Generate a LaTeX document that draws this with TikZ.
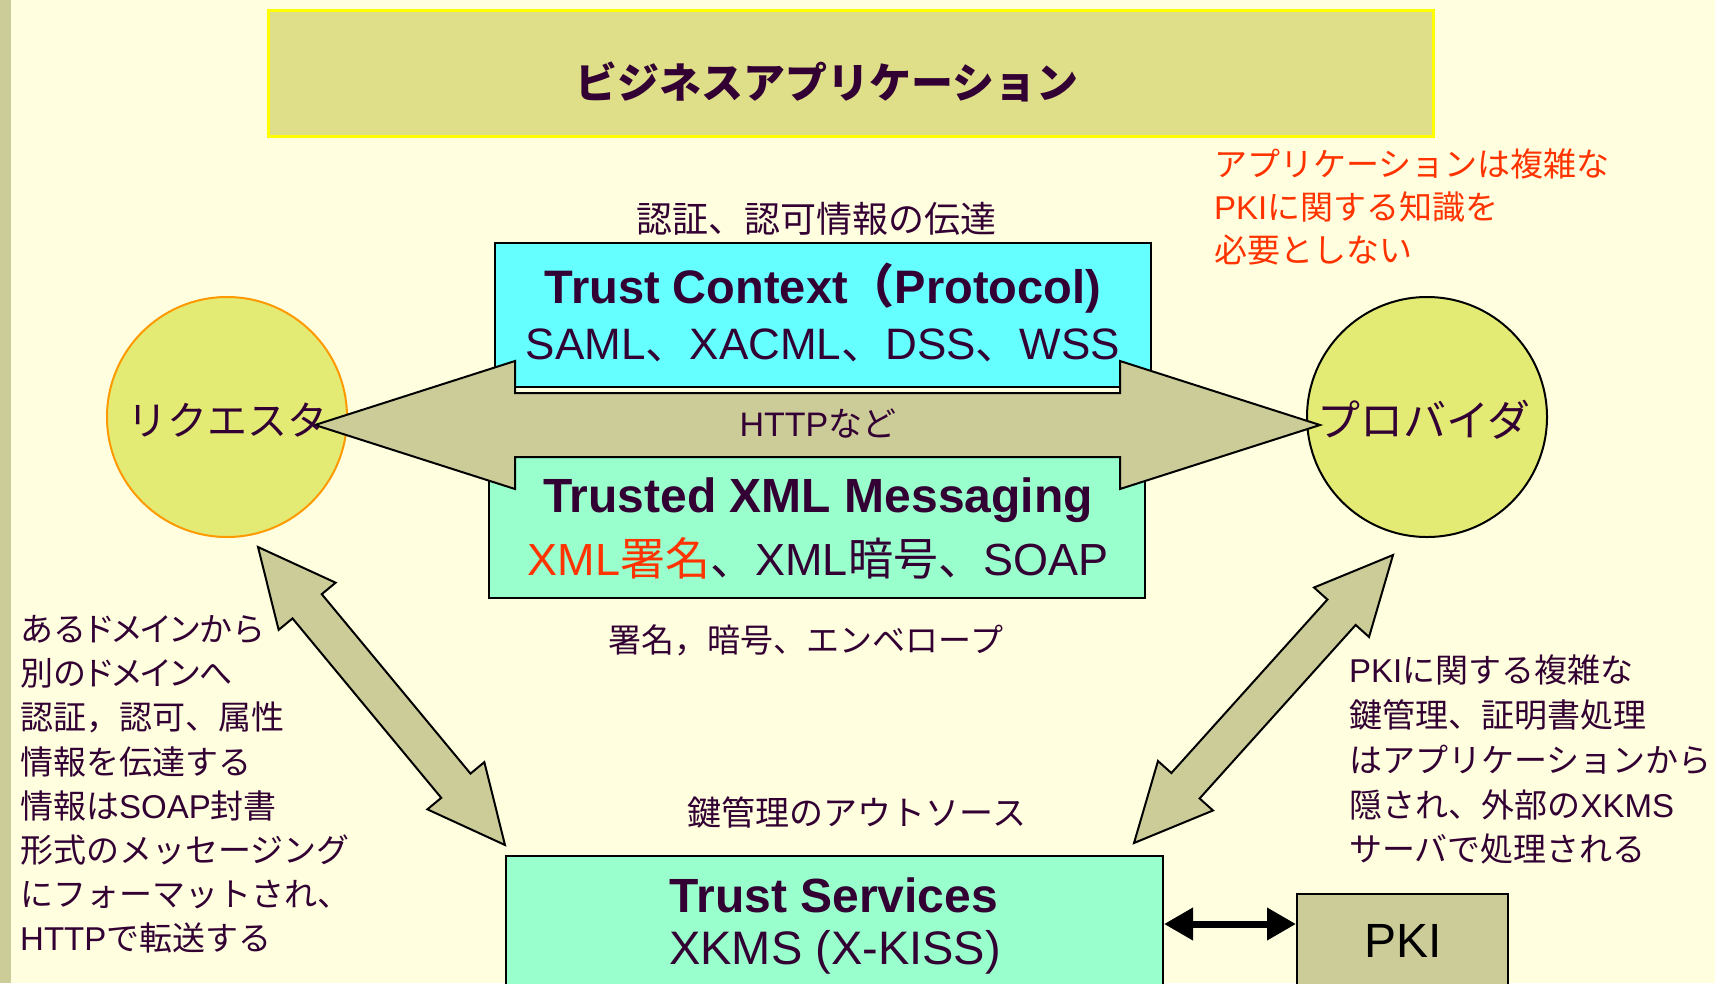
\documentclass[tikz,border=0pt]{standalone}
\usepackage{fontspec}
\setmainfont{Liberation Sans}
\newfontfamily\jpfont{Noto Sans CJK JP}
\newfontfamily\jpprop[RawFeature=+palt]{Noto Sans CJK JP}
\usetikzlibrary{calc,arrows.meta}

\definecolor{paper}{HTML}{FFFFE0}
\definecolor{sidebar}{HTML}{CCCC99}
\definecolor{appfill}{HTML}{DEDF88}
\definecolor{appline}{HTML}{FFFF00}
\definecolor{ballfill}{HTML}{E3EB75}
\definecolor{ballline}{HTML}{FF9900}
\definecolor{cyanbox}{HTML}{66FFFF}
\definecolor{mintbox}{HTML}{99FFCC}
\definecolor{olive}{HTML}{CCCC99}
\definecolor{ink}{HTML}{330033}
\definecolor{alert}{HTML}{FF3300}

% Japanese run inside Latin text (fixed width / proportional kana)
\newcommand\J[1]{{\jpfont#1}}
\newcommand\JP[1]{{\jpprop#1}}
\newcommand\pxsize[1]{\fontsize{#1}{#1}\selectfont}

% double-headed block arrow between two named points
% #1,#2 tips, #3 head length, #4 head half width, #5 shaft half width
\newcommand\dblarrow[5]{%
  \path ($(#1)!#3!(#2)$) coordinate (h1) ($(#2)!#3!(#1)$) coordinate (h2);
  \draw[blockarrow] (#1)
    -- ($(h1)!#4!90:(#2)$) -- ($(h1)!#5!90:(#2)$)
    -- ($(h2)!#5!-90:(#1)$) -- ($(h2)!#4!-90:(#1)$)
    -- (#2)
    -- ($(h2)!#4!90:(#1)$) -- ($(h2)!#5!90:(#1)$)
    -- ($(h1)!#5!-90:(#2)$) -- ($(h1)!#4!-90:(#2)$)
    -- cycle;}

\begin{document}
\begin{tikzpicture}[x=1pt,y=-1pt,
  box/.style={draw=black, line width=2pt, inner sep=0pt},
  ball/.style={circle, fill=ballfill, line width=2pt, minimum size=240pt, inner sep=0pt},
  blockarrow/.style={draw=black, line width=2pt, fill=olive},
  label/.style={text=ink, inner sep=0pt},
  note/.style={label, anchor=west, font=\pxsize{33}},
  rednote/.style={note, text=alert},
  title/.style={label, font=\bfseries\pxsize{47}},
  plain/.style={label, font=\pxsize{44}},
  pkiarrow/.style={line width=7pt, {Triangle[length=29pt,width=31pt]}-{Triangle[length=29pt,width=31pt]}}]

\useasboundingbox (0,0) rectangle (1715,983);
\clip (0,0) rectangle (1715,983);
\fill[paper] (0,0) rectangle (1715,983);
\fill[sidebar] (0,0) rectangle (11,983);

% business application layer
\node[draw=appline, line width=3pt, fill=appfill, minimum width=1165pt, minimum height=126pt, inner sep=0pt] (app) at (851,73.5) {};
\node[label, font=\bfseries\pxsize{42}] (apptext) at (827,82) {\J{ビジネスアプリケーション}};

% requester and provider
\node[ball, draw=ballline] (req) at (227,417) {};
\node[ball, draw=black] (prov) at (1427,417) {};

% protocol and messaging layers
\node[box, fill=cyanbox, minimum width=656pt, minimum height=144pt] (tc) at (823,315) {};
\node[box, fill=mintbox, minimum width=656pt, minimum height=141pt] (txm) at (817,527.5) {};

% transport arrow between requester and provider
\coordinate (hl) at (315,425);
\coordinate (hr) at (1320,425);
\dblarrow{hl}{hr}{200pt}{64pt}{32pt}

\node[label, font=\pxsize{40}] (reqtext) at (227,420) {\J{リクエスタ}};
\node[label, font=\pxsize{43}] (provtext) at (1424,420) {\J{プロバイダ}};

\node[label, font=\pxsize{36}] (authtext) at (816,219) {\J{認証、認可情報の伝達}};
\node[title] (tctitle) at (823,288) {Trust Context\J{（}Protocol)};
\node[plain] (tcsub) at (823,345) {SAML\J{、}XACML\J{、}DSS\J{、}WSS};
\node[label, font=\pxsize{34}] (http) at (818,424) {HTTP\J{など}};
\node[title, font=\bfseries\pxsize{48}] (txmtitle) at (818,500) {Trusted XML Messaging};
\node[plain, font=\pxsize{45}] (txmsub) at (818,558) {{\color{alert}XML\J{署名}}\J{、}XML\J{暗号、}SOAP};
\node[label, font=\pxsize{33}] (sigtext) at (806,640) {\J{署名，暗号、エンベロープ}};

% notes
\node[rednote] (r1) at (1214,164) {\J{アプリケーションは複雑な}};
\node[rednote] (r2) at (1214,207) {PKI\J{に関する知識を}};
\node[rednote] (r3) at (1214,250) {\J{必要としない}};

\node[note] (l1) at (20,629) {\J{ある}\JP{ドメイン}\J{から}};
\node[note] (l2) at (20,673) {\J{別の}\JP{ドメイン}\J{へ}};
\node[note] (l3) at (20,717) {\J{認証，認可、属性}};
\node[note] (l4) at (20,762) {\J{情報を伝達する}};
\node[note] (l5) at (20,806) {\J{情報は}SOAP\J{封書}};
\node[note] (l6) at (20,850) {\J{形式のメッセージング}};
\node[note] (l7) at (20,895) {\J{にフォーマットされ、}};
\node[note] (l8) at (20,938) {HTTP\J{で転送する}};

\node[note] (p1) at (1349,670) {PKI\J{に関する複雑な}};
\node[note] (p2) at (1349,715) {\J{鍵管理、証明書処理}};
\node[note] (p3) at (1349,760) {\J{はアプリケーションから}};
\node[note] (p4) at (1349,805) {\J{隠され、外部の}XKMS};
\node[note] (p5) at (1349,849) {\J{サーバで処理される}};

% arrows down to the trust services
\coordinate (dl1) at (258,547);
\coordinate (dl2) at (505,845);
\dblarrow{dl1}{dl2}{77pt}{37pt}{19pt}
\coordinate (dr1) at (1393,555);
\coordinate (dr2) at (1134,843);
\dblarrow{dr1}{dr2}{77pt}{37pt}{19pt}

\node[label, font=\pxsize{34}] (outsrc) at (857,812) {\J{鍵管理のアウトソース}};

% trust services and PKI
\node[box, fill=mintbox, minimum width=657pt, minimum height=154pt] (ts) at (834.5,933) {};
\node[box, fill=olive, minimum width=211pt, minimum height=116pt] (pki) at (1402.5,952) {};
\node[title, font=\bfseries\pxsize{48}] (tstitle) at (834,895) {Trust Services};
\node[plain, font=\pxsize{47}] (tssub) at (835,952) {XKMS (X-KISS)};
\node[plain, font=\pxsize{48}, text=black] (pkitext) at (1403,941) {PKI};

\coordinate (pkirow) at (1230,924);
\draw[pkiarrow] (ts.east |- pkirow) -- (pki.west |- pkirow);
\end{tikzpicture}
\end{document}
